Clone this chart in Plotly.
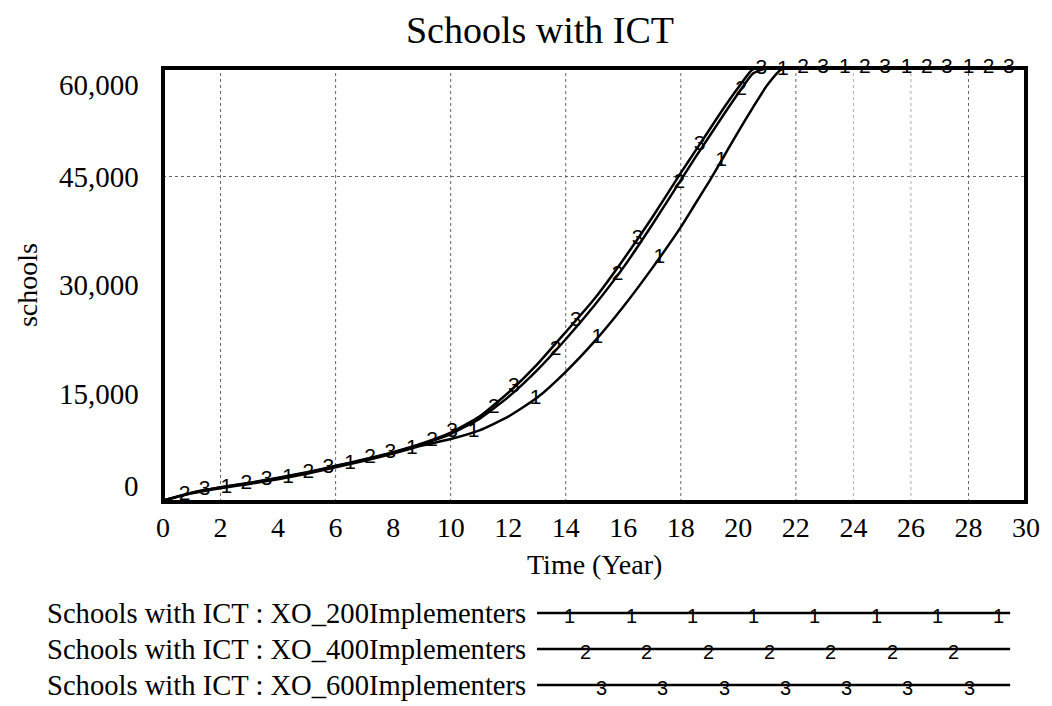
import numpy as np
import plotly.graph_objects as go

# Simulation time (years)
time = [0, 1, 2, 3, 4, 5, 6, 7, 8, 9, 10, 11, 12, 13, 14, 15, 16, 17, 18,
        18.5, 19, 19.5, 20, 20.5, 21, 21.5, 22,
        23, 24, 25, 26, 27, 28, 29, 30]

# Schools with ICT for each implementer scenario
xo_200 = [200, 1200, 1900, 2500, 3150, 3900, 4800, 5700, 6700, 7800, 8700, 9900,
          11800, 14400, 18000, 22200, 27000, 32300, 38000,
          41200, 44400, 47800, 51200, 54500, 57600, 59800, 60000,
          60000, 60000, 60000, 60000, 60000, 60000, 60000, 60000]
xo_400 = [200, 1250, 2000, 2600, 3300, 4050, 4950, 5850, 6850, 8000, 9400, 11500,
          14500, 18200, 22500, 27200, 32400, 38300, 44500,
          47600, 50600, 53600, 56500, 59200, 60000, 60000, 60000,
          60000, 60000, 60000, 60000, 60000, 60000, 60000, 60000]
xo_600 = [200, 1300, 2050, 2650, 3350, 4100, 5000, 5900, 6900, 8100, 9600, 11800,
          15100, 19000, 23500, 28100, 33500, 39300, 45500,
          48500, 51500, 54500, 57300, 59800, 60000, 60000, 60000,
          60000, 60000, 60000, 60000, 60000, 60000, 60000, 60000]

series_names = ["Schools with ICT : XO_200Implementers",
                "Schools with ICT : XO_400Implementers",
                "Schools with ICT : XO_600Implementers"]
series_tags = ["1", "2", "3"]
series_values = [xo_200, xo_400, xo_600]

x_ticks = list(range(0, 31, 2))
y_ticks = [0, 15000, 30000, 45000, 60000]
y_tick_text = ["0", "15,000", "30,000", "45,000", "60,000"]

SERIF = "Liberation Serif, Times New Roman, serif"
SANS = "Liberation Sans, Arial, sans-serif"

# spacing of the numbered tags drawn along each curve (years) and start offsets
TAG_STEP = 2.15
TAG_START = [2.2, 0.75, 1.45]

fig = go.Figure()

for vals in series_values:
    fig.add_trace(go.Scatter(x=time, y=vals, mode="lines",
                             line=dict(color="black", width=2.5, shape="spline", smoothing=0.5),
                             hoverinfo="skip", showlegend=False))

for vals, tag, start in zip(series_values, series_tags, TAG_START):
    tx = np.arange(start, 30.0, TAG_STEP)
    ty = np.interp(tx, time, vals)
    fig.add_trace(go.Scatter(x=tx, y=ty, mode="text", text=[tag] * len(tx),
                             textposition="middle center",
                             textfont=dict(family=SANS, size=21, color="black"),
                             cliponaxis=False, hoverinfo="skip", showlegend=False))

shapes = []
# dotted grid
for gx in [2, 6, 10, 14, 18, 22, 24, 26, 28]:
    faint = gx in (24, 26)
    shapes.append(dict(type="line", xref="x", yref="paper", x0=gx, x1=gx, y0=0, y1=1,
                       line=dict(color="#b0b0b0" if faint else "#666666", width=1, dash="dot"),
                       layer="below"))
shapes.append(dict(type="line", xref="paper", yref="y", x0=0, x1=1, y0=45000, y1=45000,
                   line=dict(color="#666666", width=1, dash="dot"), layer="below"))
# heavy frame
shapes.append(dict(type="rect", xref="paper", yref="paper", x0=0, x1=1, y0=0, y1=1,
                   line=dict(color="black", width=4), layer="above"))

annotations = []
# y tick labels (end labels pulled inside the frame)
for v, t in zip(y_ticks, y_tick_text):
    shift = 0
    if v == y_ticks[-1]:
        shift = -17
    elif v == y_ticks[0]:
        shift = 16
    annotations.append(dict(x=0, y=v, xref="paper", yref="y", text=t, showarrow=False,
                            xanchor="right", yanchor="middle", xshift=-22, yshift=shift,
                            font=dict(family=SERIF, size=29, color="black")))

annotations.append(dict(x=-0.1575, y=0.5, xref="paper", yref="paper", text="schools",
                        textangle=-90, showarrow=False, xanchor="center", yanchor="middle",
                        font=dict(family=SERIF, size=28, color="black")))
annotations.append(dict(x=0.5, y=-0.145, xref="paper", yref="paper", text="Time (Year)",
                        showarrow=False, xanchor="center", yanchor="middle",
                        font=dict(family=SERIF, size=28, color="black")))

# legend block under the chart
PLOT_L, PLOT_W, PLOT_B, PLOT_H = 163, 870, 502, 434


def px_x(p):
    return (p - PLOT_L) / PLOT_W


def px_y(p):
    return (PLOT_B - p) / PLOT_H


legend_rows = [613, 649, 685]
legend_tag_start = [573, 589, 605]
legend_tag_count = [8, 7, 7]
for name, tag, row, t0, n in zip(series_names, series_tags, legend_rows,
                                 legend_tag_start, legend_tag_count):
    annotations.append(dict(x=px_x(44), y=px_y(row), xref="paper", yref="paper", text=name,
                            showarrow=False, xanchor="left", yanchor="middle",
                            font=dict(family=SERIF, size=28.6, color="black")))
    shapes.append(dict(type="line", xref="paper", yref="paper",
                       x0=px_x(540), x1=px_x(1017), y0=px_y(row), y1=px_y(row),
                       line=dict(color="black", width=2.5)))
    for k in range(n):
        annotations.append(dict(x=px_x(t0 + 61.8 * k), y=px_y(row + 3), xref="paper",
                                yref="paper", text=tag, showarrow=False,
                                xanchor="center", yanchor="middle",
                                font=dict(family=SANS, size=20, color="black")))

fig.update_layout(
    width=1052, height=706,
    margin=dict(l=163, r=19, t=68, b=204),
    paper_bgcolor="white", plot_bgcolor="white",
    title=dict(text="Schools with ICT", x=540 / 1052, xanchor="center",
               y=1 - 30 / 706, yanchor="middle",
               font=dict(family=SERIF, size=38, color="black")),
    xaxis=dict(range=[0, 30], tickvals=x_ticks, ticks="", showgrid=False, zeroline=False,
               showline=False, tickfont=dict(family=SERIF, size=28, color="black"),
               ticklabelstandoff=6),
    yaxis=dict(range=[0, 60000], tickvals=y_ticks, showticklabels=False, ticks="",
               showgrid=False, zeroline=False, showline=False),
    shapes=shapes,
    annotations=annotations,
    showlegend=False,
)

fig.write_html("out.html")
